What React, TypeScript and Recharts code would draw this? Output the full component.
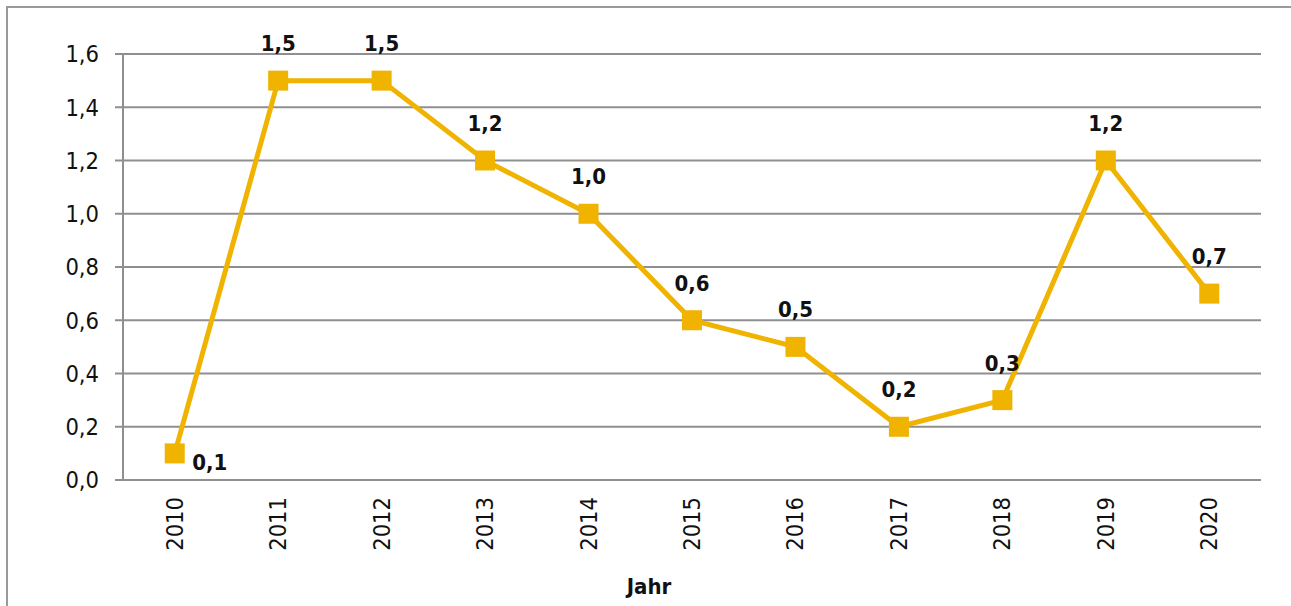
import React from "react";
import { LineChart, Line, XAxis, YAxis, CartesianGrid, LabelList, Label } from "recharts";

const years = ["2010", "2011", "2012", "2013", "2014", "2015", "2016", "2017", "2018", "2019", "2020"];
const values = [0.1, 1.5, 1.5, 1.2, 1.0, 0.6, 0.5, 0.2, 0.3, 1.2, 0.7];
const yTicks = [0, 0.2, 0.4, 0.6, 0.8, 1.0, 1.2, 1.4, 1.6];

const data = years.map((year, i) => ({ pos: i + 0.5, year, value: values[i] }));
const boundaryTicks = years.map((_, i) => i).concat(years.length);
const centerTicks = years.map((_, i) => i + 0.5);

const FONT = "'Liberation Sans Narrow', 'DejaVu Sans Condensed', 'Noto Sans', sans-serif";
const GOLD = "#EFB300";
const GRID = "#8f8f8f";

const fmt = (v: number) => v.toFixed(1).replace(".", ",");

function YearTick(props: any) {
  const { x, y, payload } = props;
  const label = years[Math.round(payload.value - 0.5)];
  return (
    <text
      x={x}
      y={y}
      transform={`rotate(-90, ${x}, ${y})`}
      textAnchor="end"
      dominantBaseline="central"
      fontFamily={FONT}
      fontSize={23.5}
      fill="#111"
    >
      {label}
    </text>
  );
}

function ValueLabel(props: any) {
  const { x, y, value, index } = props;
  const first = index === 0;
  return (
    <text
      x={first ? x + 35 : x}
      y={first ? y + 9 : y - 37}
      textAnchor="middle"
      dominantBaseline="central"
      fontFamily={FONT}
      fontWeight="bold"
      fontSize={22}
      fill="#111"
    >
      {fmt(value)}
    </text>
  );
}

function SquareDot(props: any) {
  const { cx, cy } = props;
  return <rect x={cx - 10} y={cy - 10} width={20} height={20} fill={GOLD} />;
}

export default function App() {
  return (
    <div style={{ position: "absolute", left: 0, top: 0, width: 1291, height: 606, overflow: "hidden", background: "#fff" }}>
      <div
        style={{
          position: "absolute",
          left: 6,
          top: 6,
          width: 1320,
          height: 640,
          border: "2px solid #9a9a9a",
        }}
      />
      <div style={{ position: "absolute", left: 0, top: 0 }}>
        <LineChart width={1291} height={606} data={data} margin={{ top: 54, right: 30, left: 23, bottom: 0 }}>
          <CartesianGrid vertical={false} stroke={GRID} strokeWidth={2} />
          <XAxis
            xAxisId="edges"
            type="number"
            dataKey="pos"
            domain={[0, years.length]}
            ticks={boundaryTicks}
            tickFormatter={() => ""}
            height={0}
            tickSize={8}
            stroke={GRID}
            strokeWidth={2}
          />
          <XAxis
            xAxisId="labels"
            type="number"
            dataKey="pos"
            domain={[0, years.length]}
            ticks={centerTicks}
            tick={<YearTick />}
            tickLine={false}
            axisLine={false}
            tickSize={0}
            tickMargin={17}
            height={126}
          >
            <Label
              value="Jahr"
              position="insideBottom"
              offset={12}
              dx={-43}
              style={{ fontFamily: FONT, fontWeight: "bold", fontSize: 22, fill: "#111" }}
            />
          </XAxis>
          <YAxis
            domain={[0, 1.6]}
            ticks={yTicks}
            tickFormatter={fmt}
            width={100}
            tickSize={8}
            tickMargin={16}
            stroke={GRID}
            strokeWidth={2}
            tick={{ fontFamily: FONT, fontSize: 23.5, fill: "#111" }}
          />
          <Line
            xAxisId="edges"
            dataKey="value"
            stroke={GOLD}
            strokeWidth={5}
            dot={<SquareDot />}
            activeDot={false}
            isAnimationActive={false}
          >
            <LabelList dataKey="value" content={<ValueLabel />} />
          </Line>
        </LineChart>
      </div>
    </div>
  );
}
